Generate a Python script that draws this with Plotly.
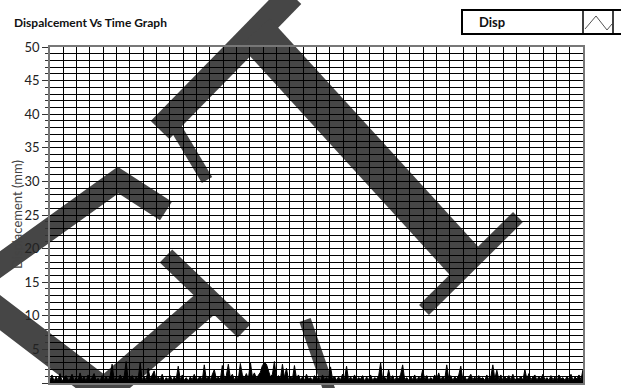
import numpy as np
import plotly.graph_objects as go

# ---- data ----
title_text = "Dispalcement Vs Time Graph"
legend_name = "Disp"
y_title = "Displacement (mm)"
y_ticks = [0, 5, 10, 15, 20, 25, 30, 35, 40, 45, 50]
disp_values = [
    0.4, 1.2, 0.3, 0.9, 0.5, 1.4, 0.3, 0.7, 1.1, 0.4,
    0.6, 1.3, 0.3, 0.8, 0.4, 1.5, 0.5, 0.9, 0.3, 1.2,
    0.5, 0.8, 1.4, 0.4, 0.7, 0.3, 1.1, 0.5, 0.9, 0.4,
    1.0, 2.8, 0.5, 0.8, 0.4, 1.2, 0.6, 0.9, 3.2, 0.5,
    0.7, 1.1, 0.4, 0.9, 0.6, 3.0, 0.5, 1.0, 0.4, 2.2,
    0.6, 1.2, 1.8, 0.4, 0.9, 0.5, 1.3, 0.3, 0.8, 0.5,
    1.1, 0.4, 0.9, 0.6, 2.5, 0.5, 1.2, 0.4, 0.8, 0.3,
    0.9, 0.5, 1.3, 0.4, 0.7, 1.0, 0.4, 2.7, 0.6, 0.9,
    0.5, 1.4, 2.0, 0.6, 0.9, 0.5, 2.6, 0.7, 1.1, 2.8,
    0.8, 1.3, 0.5, 1.0, 0.6, 2.9, 1.2, 0.7, 1.4, 0.6,
    3.1, 0.9, 1.5, 0.7, 1.2, 1.6, 2.6, 3.0, 2.8, 1.8,
    0.9, 1.3, 3.2, 0.7, 1.1, 0.6, 2.8, 0.8, 2.2, 0.5,
    1.0, 0.6, 2.6, 0.7, 1.2, 0.5, 0.9, 0.4, 1.3, 0.6,
    0.8, 0.4, 1.1, 0.6, 0.9, 0.3, 1.2, 0.5, 0.8, 0.4,
    2.4, 0.6, 1.0, 0.4, 0.9, 0.5, 1.3, 0.6, 2.5, 0.4,
    0.9, 0.5, 1.2, 0.4, 0.8, 0.6, 1.1, 0.3, 0.9, 0.5,
    1.2, 0.4, 0.8, 0.6, 1.0, 3.0, 0.5, 0.9, 0.4, 2.0,
    0.5, 1.1, 0.4, 0.9, 0.6, 1.3, 2.7, 0.5, 0.8, 0.4,
    1.0, 0.5, 1.2, 0.4, 0.9, 0.6, 2.0, 0.5, 1.1, 0.4,
    0.8, 0.5, 1.2, 0.6, 1.5, 0.4, 1.0, 0.5, 2.7, 0.6,
    1.1, 0.4, 0.9, 0.6, 1.2, 2.5, 0.5, 1.0, 0.4, 0.8,
    1.3, 0.5, 0.9, 0.4, 1.1, 0.6, 0.8, 0.4, 1.2, 0.5,
    0.9, 2.7, 0.6, 1.9, 0.5, 1.2, 0.4, 0.9, 0.6, 1.1,
    0.5, 1.3, 0.4, 0.8, 0.6, 1.0, 0.4, 2.0, 0.6, 1.4,
    0.5, 0.9, 1.2, 0.4, 1.0, 0.6, 1.3, 0.5, 0.8, 0.4,
    1.1, 0.5, 0.9, 0.3, 1.2, 0.6, 0.8, 0.4, 1.0, 0.5,
    1.3, 0.4, 0.9, 0.6, 1.2, 0.5, 2.0,
]
time_max = 40
time_values = np.linspace(0, time_max, len(disp_values))

# ---- layout geometry (pixels) ----
W, H = 621, 388
PL, PR, PT, PB = 50, 583, 47, 383
FONT = "Lato, Roboto, Liberation Sans, Arial"


def px(x, y):
    return (x - PL) / (PR - PL), (PB - y) / (PB - PT)


def path(points):
    parts = []
    for i, (x, y) in enumerate(points):
        u, v = px(x, y)
        parts.append(("M" if i == 0 else "L") + f"{u:.4f},{v:.4f}")
    return " ".join(parts)


fig = go.Figure()
fig.add_trace(go.Scatter(
    x=time_values, y=disp_values, mode="lines",
    line=dict(color="black", width=1),
    fill="tozeroy", fillcolor="black", name=legend_name,
    showlegend=False, hoverinfo="skip",
))

shapes = []
# watermark-like dark strokes over the graph (decoration)
wm = "#464646"
strokes = [
    ([(-10, 272), (118, 180), (166, 211)], 22),
    ([(-10, 305), (104, 392), (210, 300)], 28),
    ([(166, 256), (244, 331)], 18),
    ([(305, 320), (330, 392)], 12),
    ([(160, 130), (292, -5)], 26),
    ([(170, 118), (207, 180)], 12),
    ([(255, 32), (466, 263)], 40),
    ([(424, 310), (518, 217)], 14),
]
for pts, w in strokes:
    shapes.append(dict(type="path", xref="paper", yref="paper", path=path(pts),
                       line=dict(color=wm, width=w), layer="below"))

# legend box (LabVIEW style)
x0, y0 = px(462, 10)
x1, y1 = px(630, 34)
shapes.append(dict(type="rect", xref="paper", yref="paper", x0=x0, y0=y0, x1=x1, y1=y1,
                   line=dict(color="black", width=2), fillcolor="white"))
for xd in (583, 613):
    a, b = px(xd, 10)
    c, d = px(xd, 34)
    shapes.append(dict(type="line", xref="paper", yref="paper", x0=a, y0=b, x1=c, y1=d,
                       line=dict(color="black", width=1.5)))
shapes.append(dict(type="path", xref="paper", yref="paper",
                   path=path([(585, 29), (596, 16), (607, 30), (612, 24)]),
                   line=dict(color="#555555", width=1)))

fig.update_layout(
    width=W, height=H,
    margin=dict(l=PL, r=W - PR, t=PT, b=H - PB),
    paper_bgcolor="white", plot_bgcolor="white",
    font=dict(family=FONT, color="#111"),
    shapes=shapes,
    annotations=[
        dict(text=f"<b>{title_text}</b>", xref="paper", yref="paper",
             x=px(12, 0)[0], y=px(0, 22)[1], xanchor="left", yanchor="middle",
             showarrow=False, font=dict(size=12, color="#111")),
        dict(text=f"<b>{legend_name}</b>", xref="paper", yref="paper",
             x=px(477, 0)[0], y=px(0, 22)[1], xanchor="left", yanchor="middle",
             showarrow=False, font=dict(size=13, color="#111")),
        dict(text=y_title, xref="paper", yref="paper", textangle=-90,
             x=px(17, 0)[0], y=px(0, 215)[1], xanchor="center", yanchor="middle",
             showarrow=False, font=dict(size=13, color="#444")),
    ],
    xaxis=dict(range=[0, time_max], dtick=1, showticklabels=False, ticks="",
               showgrid=True, gridcolor="black", gridwidth=1.4, zeroline=False,
               showline=True, linecolor="#777", linewidth=1.5, mirror=True),
    yaxis=dict(range=[0, 50], tickvals=y_ticks, ticks="outside", ticklen=6,
               tickcolor="#333", tickwidth=1,
               showgrid=True, gridcolor="black", gridwidth=1.4, zeroline=False,
               showline=True, linecolor="#777", linewidth=1.5, mirror=True,
               tickfont=dict(size=13, color="#222"),
               minor=dict(dtick=1, showgrid=True, gridcolor="black", gridwidth=1.4,
                          ticks="outside", ticklen=3, tickcolor="#333")),
)

fig.write_html("out.html", config={"displayModeBar": False},
               post_script="document.body.style.margin='0';")
